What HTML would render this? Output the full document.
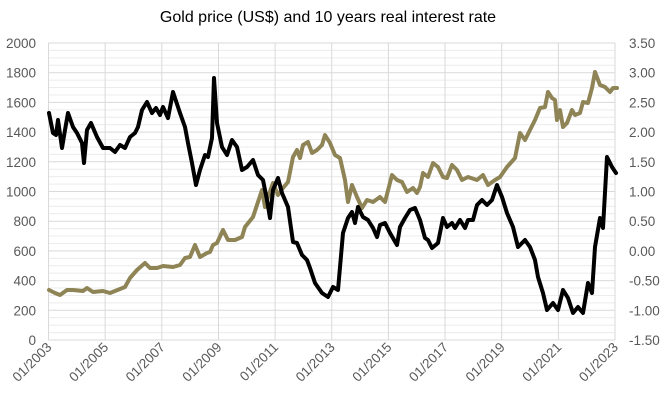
<!DOCTYPE html>
<html><head><meta charset="utf-8"><style>body{margin:0;background:#fff}svg{display:block}text{font-family:"Liberation Sans",sans-serif;fill:#595959}</style></head><body>
<svg width="670" height="407" viewBox="0 0 670 407" xmlns="http://www.w3.org/2000/svg">
<text x="328" y="22" text-anchor="middle" font-size="16" style="fill:#000">Gold price (US$) and 10 years real interest rate</text>
<g id="grid"></g>
<g id="labels" font-size="13.5"></g>
<polyline fill="none" stroke="#8f8456" stroke-width="4" stroke-linejoin="round" stroke-linecap="round" points="49,290 55,293 60,295 67,290 73,290 83,291 87,288 93,292 103,291 110,293 120,289 125,287 130,278 137,270 145,263 150,268 157,268 163,266 173,267 180,265 185,258 190,257 195,245 200,257 207,253 210,252 213,245 217,243 223,230 228,240 235,240 242,237 245,227 253,217 262,190 265,207 268,197 273,183 278,195 283,188 288,182 293,157 297,150 300,158 303,145 308,142 312,153 317,150 322,145 325,135 330,143 335,155 340,158 345,180 348,202 352,185 357,197 362,208 367,200 373,202 380,197 385,202 392,175 397,180 402,182 407,192 413,188 417,193 420,187 423,173 428,177 433,163 438,167 443,177 447,178 452,165 457,170 462,180 468,177 477,180 483,175 488,185 495,180 500,177 507,167 515,158 520,133 525,140 530,130 535,120 540,108 545,107 548,92 552,98 555,100 557,120 560,110 563,127 567,123 572,110 575,115 580,113 583,102 588,103 592,88 595,72 600,85 605,87 610,92 613,88 617,88"/>
<polyline fill="none" stroke="#000" stroke-width="4" stroke-linejoin="round" stroke-linecap="round" points="49,113 53,133 56,135 58,120 62,148 65,130 68,113 73,127 77,133 82,143 84,163 87,130 91,123 97,137 103,148 110,148 115,152 120,145 125,148 130,137 135,133 138,127 142,110 147,102 152,113 156,108 160,115 163,107 168,118 173,92 180,113 185,127 188,143 192,163 196,185 200,170 205,155 208,157 212,138 214,78 217,123 222,147 227,155 232,140 237,147 242,170 247,167 253,160 258,175 263,180 267,200 270,218 273,190 278,178 282,193 288,207 293,242 297,243 302,255 307,260 310,268 315,283 322,293 328,297 333,287 338,290 343,233 348,218 352,212 355,223 358,207 363,217 368,220 373,228 377,237 380,225 385,223 390,233 397,245 400,227 405,218 410,210 415,208 420,220 425,238 428,240 432,248 438,243 443,218 447,227 452,223 455,228 460,220 465,228 468,220 473,220 477,205 482,200 487,205 492,200 497,185 502,197 507,213 513,227 518,247 525,240 530,247 535,260 538,277 543,293 547,310 553,303 558,310 563,290 568,298 573,313 578,307 583,313 588,283 592,293 595,247 600,218 603,228 607,157 612,167 616,173"/>
<script>
var g=document.getElementById('grid'),L=document.getElementById('labels'),ns='http://www.w3.org/2000/svg';
function el(p,t,a,txt){var e=document.createElementNS(ns,t);for(var k in a)e.setAttribute(k,a[k]);if(txt)e.textContent=txt;p.appendChild(e);return e;}
var y0=340,y1=43,x0=48.5,x1=615;
for(var i=0;i<=40;i++){var y=y0-(y0-y1)*i/40;el(g,'line',{x1:x0,x2:x1,y1:y,y2:y,stroke:i%4==0?'#d9d9d9':'#ececec','stroke-width':1});}
for(var k=0;k<=10;k++){var x=x0+(x1-x0)*k/10;el(g,'line',{x1:x,x2:x,y1:y1,y2:y0,stroke:'#d9d9d9','stroke-width':1});
var t=el(L,'text',{x:x+4,y:y0+8,'text-anchor':'end',transform:'rotate(-45 '+(x+4)+' '+(y0+8)+')'},'01/'+(2003+2*k));}
for(var i=0;i<=10;i++){var y=y0-(y0-y1)*i/10;el(L,'text',{x:36,y:y+5,'text-anchor':'end'},String(i*200));
el(L,'text',{x:629,y:y+5},(-1.5+i*0.5).toFixed(2));}
</script>
</svg>
</body></html>
